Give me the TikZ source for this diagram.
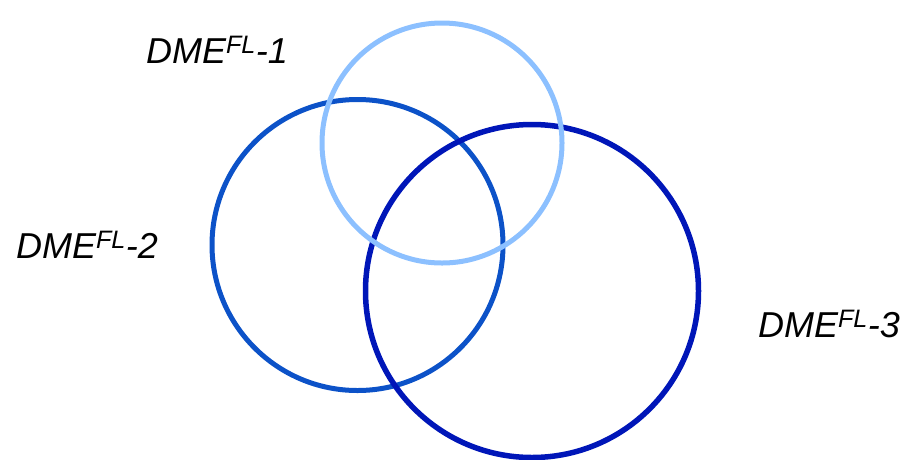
\documentclass[tikz,border=0pt]{standalone}
\usepackage{fontspec}
\setmainfont{Liberation Sans}
\definecolor{setlight}{RGB}{140,192,255}
\definecolor{setmid}{RGB}{12,82,200}
\definecolor{setdark}{RGB}{0,22,184}
\begin{document}
\begin{tikzpicture}[x=1pt, y=-1pt, line width=5pt,
		setring/.style={circle, draw, inner sep=0pt, outer sep=0pt},
		setlabel/.style={anchor=base, font=\fontsize{36}{40}\selectfont\itshape, inner sep=0pt}]
	% 1. 画布范围
	\useasboundingbox (0,0) rectangle (904,459);
	
	% 2. 三个集合
	\node[setring, draw=setmid, minimum size=291pt] (ring2) at (357.5,245) {};
	\node[setring, draw=setdark, line width=5.5pt, minimum size=333pt] (ring3) at (532,291) {};
	\node[setring, draw=setlight, minimum size=240pt] (ring1) at (442,143) {};
	
	% 3. 标签
	\node[setlabel] (lab1) at (217,63) {DME\textsuperscript{FL}-1};
	\node[setlabel] (lab2) at (87,258) {DME\textsuperscript{FL}-2};
	\node[setlabel] (lab3) at (829,337) {DME\textsuperscript{FL}-3};
\end{tikzpicture}
\end{document}
